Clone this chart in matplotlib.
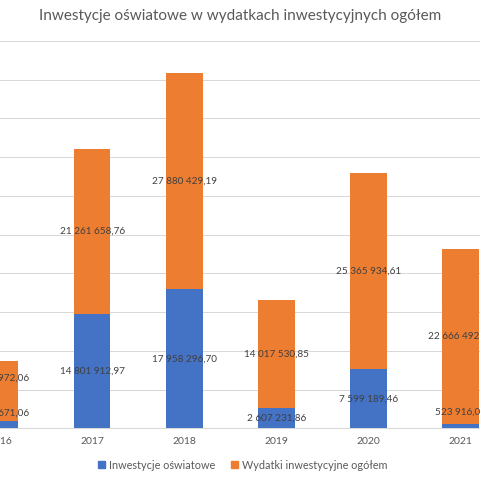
import matplotlib.pyplot as plt
from matplotlib.patches import Patch

plt.rcParams['font.family'] = ['Lato', 'DejaVu Sans']

# =========================
# Data
# =========================

years = ["2016", "2017", "2018", "2019", "2020", "2021"]
oswiatowe = [1002671.06, 14801912.97, 17958296.70, 2607231.86, 7599189.46, 523916.04]
ogolem = [7648972.06, 21261658.76, 27880429.19, 14017530.85, 25365934.61, 22666492.37]

labels_osw = ["1 002 671,06", "14 801 912,97", "17 958 296,70", "2 607 231,86", "7 599 189,46", "523 916,04"]
labels_ogo = ["7 648 972,06", "21 261 658,76", "27 880 429,19", "14 017 530,85", "25 365 934,61", "22 666 492,37"]

BLUE = "#4472C4"
ORANGE = "#ED7D31"
GRID = "#D9D9D9"
TXT = "#595959"
LBL = "#404040"

# labels Excel nudged upward (pixels)
nudge_osw = [11, 0, 0, 0, 0, 14]
nudge_ogo = [13, 0, 0, 0, 0, 0]

# =========================
# Plot
# =========================

fig = plt.figure(figsize=(4.8, 4.8), dpi=100)
ax = fig.add_axes([0, 0.1077, 1, 0.807])

x = list(range(len(years)))
ax.bar(x, oswiatowe, width=0.4, color=BLUE, zorder=2)
ax.bar(x, ogolem, width=0.4, bottom=oswiatowe, color=ORANGE, zorder=2)

for i in x:
    ax.annotate(labels_osw[i], (i, oswiatowe[i] / 2), xytext=(0, nudge_osw[i] * 0.72),
                textcoords="offset points", ha="center", va="center",
                fontsize=7.2, color=LBL, annotation_clip=False, zorder=3)
    ax.annotate(labels_ogo[i], (i, oswiatowe[i] + ogolem[i] / 2), xytext=(0, nudge_ogo[i] * 0.72),
                textcoords="offset points", ha="center", va="center",
                fontsize=7.2, color=LBL, annotation_clip=False, zorder=3)

ax.set_xlim(0.085, 5.213)
ax.set_ylim(0, 50000000)
ax.set_yticks(range(0, 50000001, 5000000))
ax.yaxis.grid(True, color=GRID, linewidth=0.75, zorder=0)
ax.set_axisbelow(True)
ax.tick_params(axis="y", left=False, labelleft=False)

ax.set_xticks(x)
ax.set_xticklabels(years)
ax.tick_params(axis="x", length=0, pad=6, labelsize=7.5, labelcolor=TXT)

for s in ["top", "left", "right"]:
    ax.spines[s].set_visible(False)
ax.spines["bottom"].set_color(GRID)
ax.spines["bottom"].set_linewidth(0.75)

fig.text(0.5, 0.967, "Inwestycje oświatowe w wydatkach inwestycyjnych ogółem",
         ha="center", va="center", fontsize=11, color=TXT)

handles = [Patch(color=BLUE, label="Inwestycje oświatowe"),
           Patch(color=ORANGE, label="Wydatki inwestycyjne ogółem")]
fig.legend(handles=handles, loc="center", bbox_to_anchor=(0.506, 0.031), ncol=2,
           frameon=False, fontsize=7.8, labelcolor=TXT, handlelength=0.6,
           handleheight=0.6, handletextpad=0.4, columnspacing=1.5)

plt.savefig("out.png")
plt.close()
